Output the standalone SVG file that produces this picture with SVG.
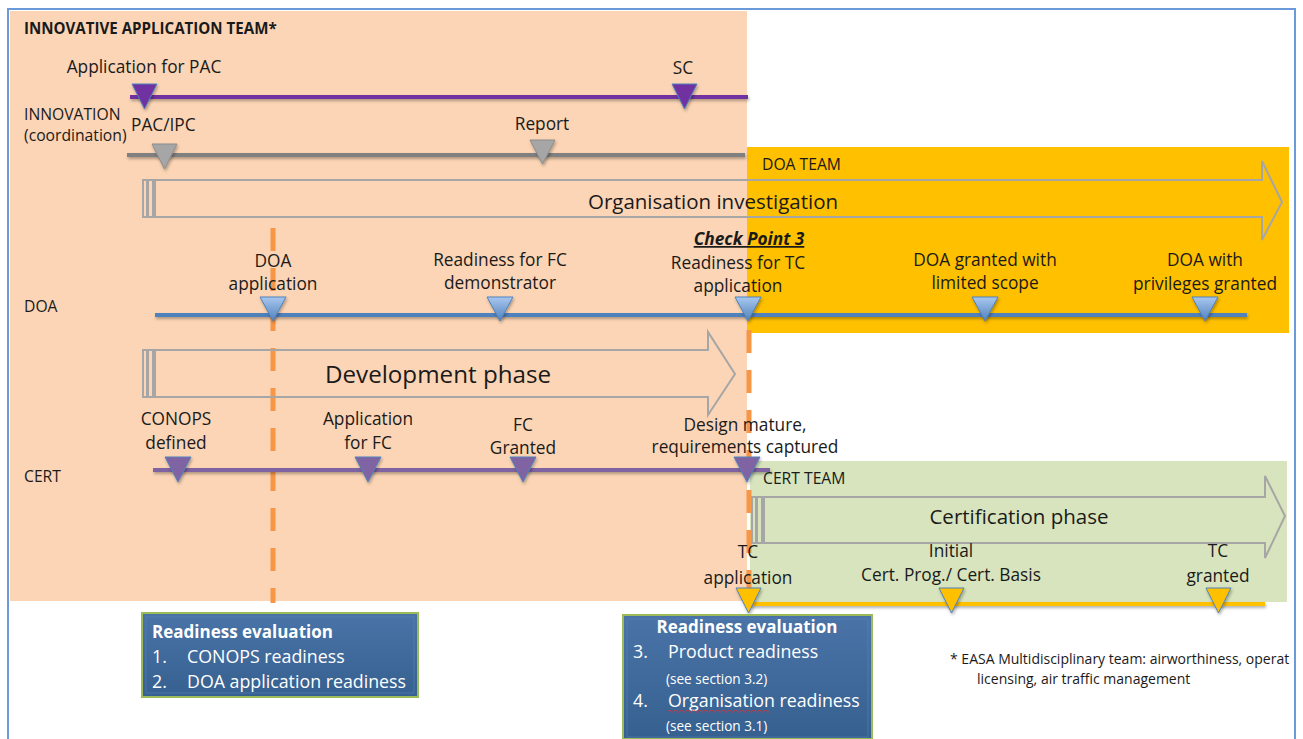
<svg xmlns="http://www.w3.org/2000/svg" width="1303" height="739" viewBox="0 0 1303 739">
<defs>
<style>
text{font-family:"Open Sans",Lato,"Liberation Sans",sans-serif;fill:#1a1a1a}
.s14{font-size:15.7px}
.s16{font-size:17.3px}
.c{text-anchor:middle}
.wt{fill:#ffffff;font-size:17.8px}
.sm{font-size:13.6px}
.ln{stroke-width:4;fill:none}
.arr{fill:none;stroke:#A6A6A6;stroke-width:2}
.dash{stroke:#F79646;stroke-width:5;stroke-dasharray:23 17;fill:none}
.tri{stroke:#4F81BD;stroke-width:1}
</style>
<linearGradient id="gblue" x1="0" y1="0" x2="0" y2="1">
<stop offset="0" stop-color="#A9C7EE"/><stop offset="1" stop-color="#4F81BD"/>
</linearGradient>
<linearGradient id="gbox" x1="0" y1="0" x2="0" y2="1">
<stop offset="0" stop-color="#4A74A8"/><stop offset="1" stop-color="#36608F"/>
</linearGradient>
<filter id="sh" filterUnits="userSpaceOnUse" x="0" y="0" width="1303" height="739">
<feDropShadow dx="1" dy="2" stdDeviation="1.5" flood-color="#000" flood-opacity="0.3"/>
</filter>
<clipPath id="frameclip"><rect x="0" y="0" width="1294" height="739"/></clipPath>
</defs>

<g id="background">
<rect x="10" y="11" width="737" height="590" fill="#FBD5B5"/>
<rect x="747" y="147" width="542" height="186" fill="#FFC000"/>
<rect x="750" y="461" width="537" height="141" fill="#D7E4BD"/>
<path d="M8 739 V9 H1295 V739" fill="none" stroke="#6A9BD8" stroke-width="2"/>
</g>

<g id="labels-rows">
<text x="24" y="34" font-size="15.1" font-weight="bold">INNOVATIVE APPLICATION TEAM*</text>
<text x="24" y="120" class="s14">INNOVATION</text>
<text x="24" y="141" class="s14">(coordination)</text>
<text x="24" y="312" class="s14">DOA</text>
<text x="24" y="482" class="s14">CERT</text>
<text x="762" y="170" class="s14">DOA TEAM</text>
<text x="763" y="484" class="s14">CERT TEAM</text>
</g>

<g id="connectors">
<line class="dash" x1="273" y1="228" x2="273" y2="603"/>
<line class="dash" x1="749" y1="330" x2="749" y2="600"/>
<line class="ln" x1="130" y1="97" x2="748" y2="97" stroke="#7030A0" filter="url(#sh)"/>
<line class="ln" x1="127" y1="155" x2="745" y2="155" stroke="#808080" filter="url(#sh)"/>
<line class="ln" x1="155" y1="315" x2="1247" y2="315" stroke="#4F81BD" filter="url(#sh)"/>
<line class="ln" x1="153" y1="470" x2="770" y2="470" stroke="#8064A2" filter="url(#sh)"/>
<line class="ln" x1="748" y1="604" x2="1265" y2="604" stroke="#FFC000" filter="url(#sh)"/>
</g>

<g id="org-investigation">
<rect class="arr" x="143" y="180" width="4" height="37"/>
<rect class="arr" x="148" y="180" width="5" height="37"/>
<path class="arr" d="M155 180 H1262 V161 L1282 202 L1262 240 V217 H155 Z"/>
<text x="713" y="209" class="c" font-size="20.5">Organisation investigation</text>
</g>

<g id="development-phase">
<rect class="arr" x="143" y="350" width="4" height="47"/>
<rect class="arr" x="148" y="350" width="5" height="47"/>
<path class="arr" d="M155 350 H708 V332 L735 374 L708 415 V397 H155 Z"/>
<text x="438" y="383" class="c" font-size="24.2">Development phase</text>
</g>

<g id="certification-phase">
<rect class="arr" x="752" y="497" width="4" height="46"/>
<rect class="arr" x="757" y="497" width="5" height="46"/>
<path class="arr" d="M764 497 H1265 V476 L1285 516 L1265 558 V543 H764 Z"/>
<text x="1019" y="524" class="c" font-size="20.5">Certification phase</text>
</g>

<g id="m-app-pac">
<polygon class="tri" points="132,84 157,84 144.5,109" fill="#7030A0" filter="url(#sh)"/>
<text x="144" y="73" class="s16 c">Application for PAC</text>
</g>
<g id="m-sc">
<polygon class="tri" points="672,84 697,84 684.5,109" fill="#7030A0" filter="url(#sh)"/>
<text x="683" y="74" class="s16 c">SC</text>
</g>
<g id="m-pac-ipc">
<polygon points="152,144 177,144 164.5,169" fill="#A6A6A6" stroke="#8C8C8C" filter="url(#sh)"/>
<text x="131" y="131" class="s16">PAC/IPC</text>
</g>
<g id="m-report">
<polygon points="530,140 555,140 542.5,164" fill="#A6A6A6" stroke="#8C8C8C" filter="url(#sh)"/>
<text x="542" y="130" class="s16 c">Report</text>
</g>

<g id="m-doa-app">
<polygon class="tri" points="260,297 286,297 273,321" fill="url(#gblue)" filter="url(#sh)"/>
<text x="273" y="267" class="s16 c">DOA</text>
<text x="273" y="290" class="s16 c">application</text>
</g>
<g id="m-fc-demo">
<polygon class="tri" points="487,297 513,297 500,321" fill="url(#gblue)" filter="url(#sh)"/>
<text x="500" y="266" class="s16 c">Readiness for FC</text>
<text x="500" y="289" class="s16 c">demonstrator</text>
</g>
<g id="m-tc-ready">
<polygon class="tri" points="735,297 761,297 748,321" fill="url(#gblue)" filter="url(#sh)"/>
<text x="749" y="245" class="s16 c" font-weight="bold" font-style="italic" text-decoration="underline">Check Point 3</text>
<text x="738" y="269" class="s16 c">Readiness for TC</text>
<text x="738" y="292" class="s16 c">application</text>
</g>
<g id="m-doa-limited">
<polygon class="tri" points="972,297 998,297 985,321" fill="url(#gblue)" filter="url(#sh)"/>
<text x="985" y="266" class="s16 c">DOA granted with</text>
<text x="985" y="289" class="s16 c">limited scope</text>
</g>
<g id="m-doa-priv">
<polygon class="tri" points="1192,297 1218,297 1205,321" fill="url(#gblue)" filter="url(#sh)"/>
<text x="1205" y="266" class="s16 c">DOA with</text>
<text x="1205" y="290" class="s16 c">privileges granted</text>
</g>

<g id="m-conops">
<polygon class="tri" points="165,457 191,457 178,482" fill="#8064A2" filter="url(#sh)"/>
<text x="176" y="425" class="s16 c">CONOPS</text>
<text x="176" y="449" class="s16 c">defined</text>
</g>
<g id="m-app-fc">
<polygon class="tri" points="355,457 381,457 368,482" fill="#8064A2" filter="url(#sh)"/>
<text x="368" y="425" class="s16 c">Application</text>
<text x="368" y="449" class="s16 c">for FC</text>
</g>
<g id="m-fc-granted">
<polygon class="tri" points="510,457 536,457 523,482" fill="#8064A2" filter="url(#sh)"/>
<text x="523" y="431" class="s16 c">FC</text>
<text x="523" y="454" class="s16 c">Granted</text>
</g>
<g id="m-design">
<polygon class="tri" points="734,457 760,457 747,482" fill="#8064A2" filter="url(#sh)"/>
<text x="745" y="431" class="s16 c">Design mature,</text>
<text x="745" y="453" class="s16 c">requirements captured</text>
</g>

<g id="m-tc-app">
<polygon class="tri" points="736,588 761,588 748.5,613" fill="#FFC000" filter="url(#sh)"/>
<text x="748" y="558" class="s16 c">TC</text>
<text x="748" y="584" class="s16 c">application</text>
</g>
<g id="m-initial">
<polygon class="tri" points="939,588 964,588 951.5,613" fill="#FFC000" filter="url(#sh)"/>
<text x="951" y="557" class="s16 c">Initial</text>
<text x="951" y="581" class="s16 c">Cert. Prog./ Cert. Basis</text>
</g>
<g id="m-tc-granted">
<polygon class="tri" points="1206,588 1231,588 1218.5,613" fill="#FFC000" filter="url(#sh)"/>
<text x="1218" y="557" class="s16 c">TC</text>
<text x="1218" y="582" class="s16 c">granted</text>
</g>

<g id="readiness-1">
<rect x="142" y="613" width="276" height="84" fill="url(#gbox)" stroke="#9BBB59" stroke-width="2"/>
<rect x="146" y="617" width="268" height="76" fill="none" stroke="#5A84B8" stroke-width="1" opacity="0.6"/>
<text x="152" y="638" class="wt" font-size="17" font-weight="bold" style="font-size:17px">Readiness evaluation</text>
<text x="152" y="663" class="wt">1.</text>
<text x="187" y="663" class="wt">CONOPS readiness</text>
<text x="152" y="688" class="wt">2.</text>
<text x="187" y="688" class="wt">DOA application readiness</text>
</g>

<g id="readiness-2">
<rect x="623" y="615" width="249" height="124" fill="url(#gbox)" stroke="#9BBB59" stroke-width="2"/>
<rect x="627" y="619" width="241" height="118" fill="none" stroke="#5A84B8" stroke-width="1" opacity="0.6"/>
<text x="747" y="633" class="wt c" font-weight="bold" style="font-size:17px">Readiness evaluation</text>
<text x="633" y="658" class="wt">3.</text>
<text x="668" y="658" class="wt">Product readiness</text>
<text x="666" y="684" class="wt sm" style="font-size:13.6px">(see section 3.2)</text>
<text x="633" y="707" class="wt">4.</text>
<text x="668" y="707" class="wt">Organisation readiness</text>
<path d="M668 711 q1.5 -2 3 0 t3 0 t3 0 t3 0 t3 0 t3 0 t3 0 t3 0 t3 0 t3 0 t3 0 t3 0 t3 0 t3 0 t3 0 t3 0 t3 0 t3 0 t3 0 t3 0 t3 0 t3 0 t3 0 t3 0 t3 0 t3 0 t3 0 t3 0 t3 0 t3 0 t3 0 t3 0 t3 0 t3 0" fill="none" stroke="#E03030" stroke-width="0.8"/>
<text x="666" y="731" class="wt sm" style="font-size:13.6px">(see section 3.1)</text>
</g>

<g id="footnote" clip-path="url(#frameclip)">
<text x="950" y="664" font-size="14">* EASA Multidisciplinary team: airworthiness, operat</text>
<text x="977" y="684" font-size="14">licensing, air traffic management</text>
</g>
</svg>
